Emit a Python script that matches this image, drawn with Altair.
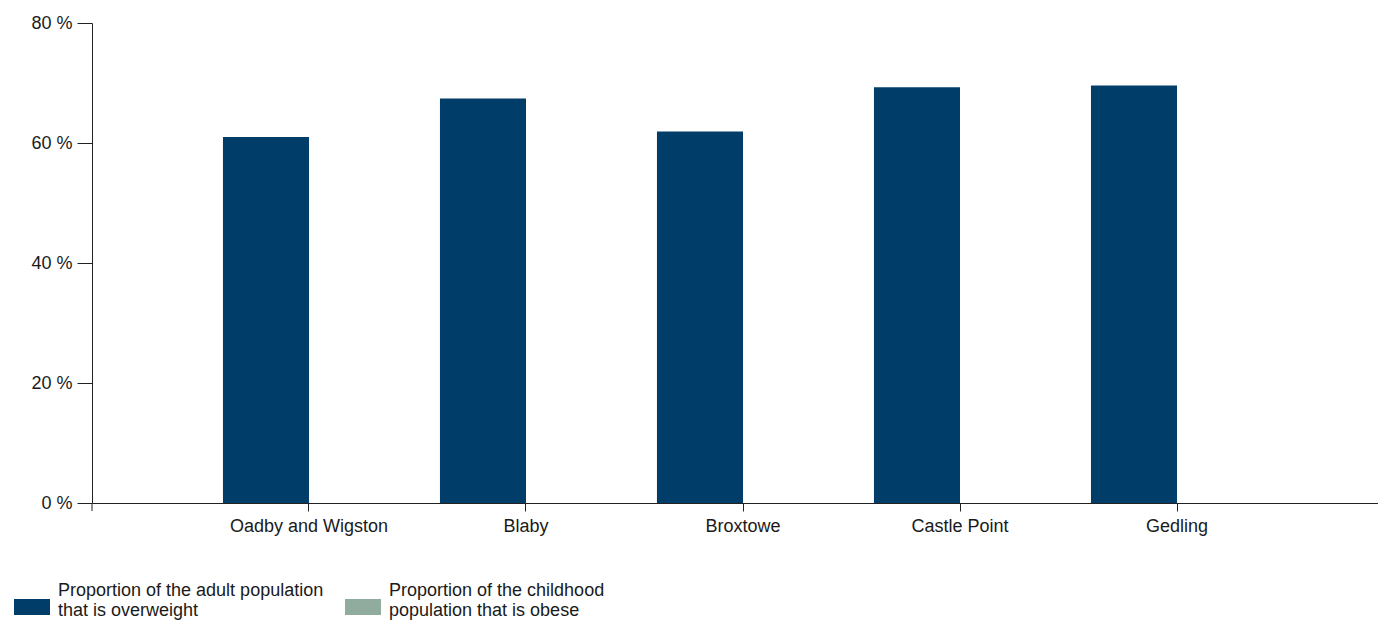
import altair as alt
import pandas as pd

categories = ["Oadby and Wigston", "Blaby", "Broxtowe", "Castle Point", "Gedling"]
adult_overweight = [61.0, 67.4, 61.9, 69.3, 69.6]
child_obese = [None, None, None, None, None]
series_names = [
    "Proportion of the adult population\nthat is overweight",
    "Proportion of the childhood\npopulation that is obese",
]
series_colors = ["#003e69", "#8fac9f"]
y_ticks = [0, 20, 40, 60, 80]

rows = []
for c, a, k in zip(categories, adult_overweight, child_obese):
    rows.append({"area": c, "series": series_names[0], "value": a})
    rows.append({"area": c, "series": series_names[1], "value": k})
df = pd.DataFrame(rows)

FONT = "Liberation Sans"
AXIS_COLOR = "#222222"

bars = alt.Chart(df).mark_bar(strokeWidth=0).encode(
    x=alt.X(
        "area:N",
        sort=categories,
        title=None,
        scale=alt.Scale(domain=categories, range=[0, 1302], paddingInner=0.207, paddingOuter=0.6035),
        axis=alt.Axis(
            labelAngle=0,
            labelFont=FONT,
            labelFontSize=18,
            labelColor="#1a1a1a",
            tickSize=8,
            tickColor=AXIS_COLOR,
            domainColor=AXIS_COLOR,
            labelPadding=6,
            grid=False,
            labelLimit=300,
        ),
    ),
    xOffset=alt.XOffset("series:N", scale=alt.Scale(domain=series_names, paddingInner=0, paddingOuter=0)),
    y=alt.Y(
        "value:Q",
        title=None,
        scale=alt.Scale(domain=[0, 80], nice=False),
        axis=alt.Axis(
            values=y_ticks,
            labelExpr="datum.value + ' %'",
            labelFont=FONT,
            labelFontSize=18,
            labelColor="#1a1a1a",
            tickSize=15,
            tickColor=AXIS_COLOR,
            domainColor=AXIS_COLOR,
            labelPadding=5,
            grid=False,
        ),
    ),
    color=alt.Color(
        "series:N",
        scale=alt.Scale(domain=series_names, range=series_colors),
        legend=alt.Legend(
            title=None,
            orient="none",
            legendX=-78,
            legendY=550,
            direction="horizontal",
            symbolType="M-1,0.444H1V1.333H-1Z",
            symbolSize=1296,
            symbolStrokeWidth=0,
            symbolOpacity=1,
            labelExpr="split(datum.label, '\\n')",
            labelFont=FONT,
            labelFontSize=18,
            labelColor="#1a1a1a",
            labelLimit=400,
            labelOffset=8,
            columnPadding=21,
        ),
    ),
)

left_tick = alt.Chart(pd.DataFrame({"v": [0]})).mark_rule(color=AXIS_COLOR, strokeWidth=1).encode(
    x=alt.value(0), y=alt.value(480), y2=alt.value(488)
)

chart = alt.layer(bars, left_tick).properties(
    width=1286,
    height=480,
    background="white",
    autosize=alt.AutoSizeParams(type="none"),
    padding={"left": 84, "top": 15, "right": 0, "bottom": 117},
).configure_view(stroke="transparent", strokeWidth=0)

chart.save("out.html", embed_options={"renderer": "svg", "actions": False})
